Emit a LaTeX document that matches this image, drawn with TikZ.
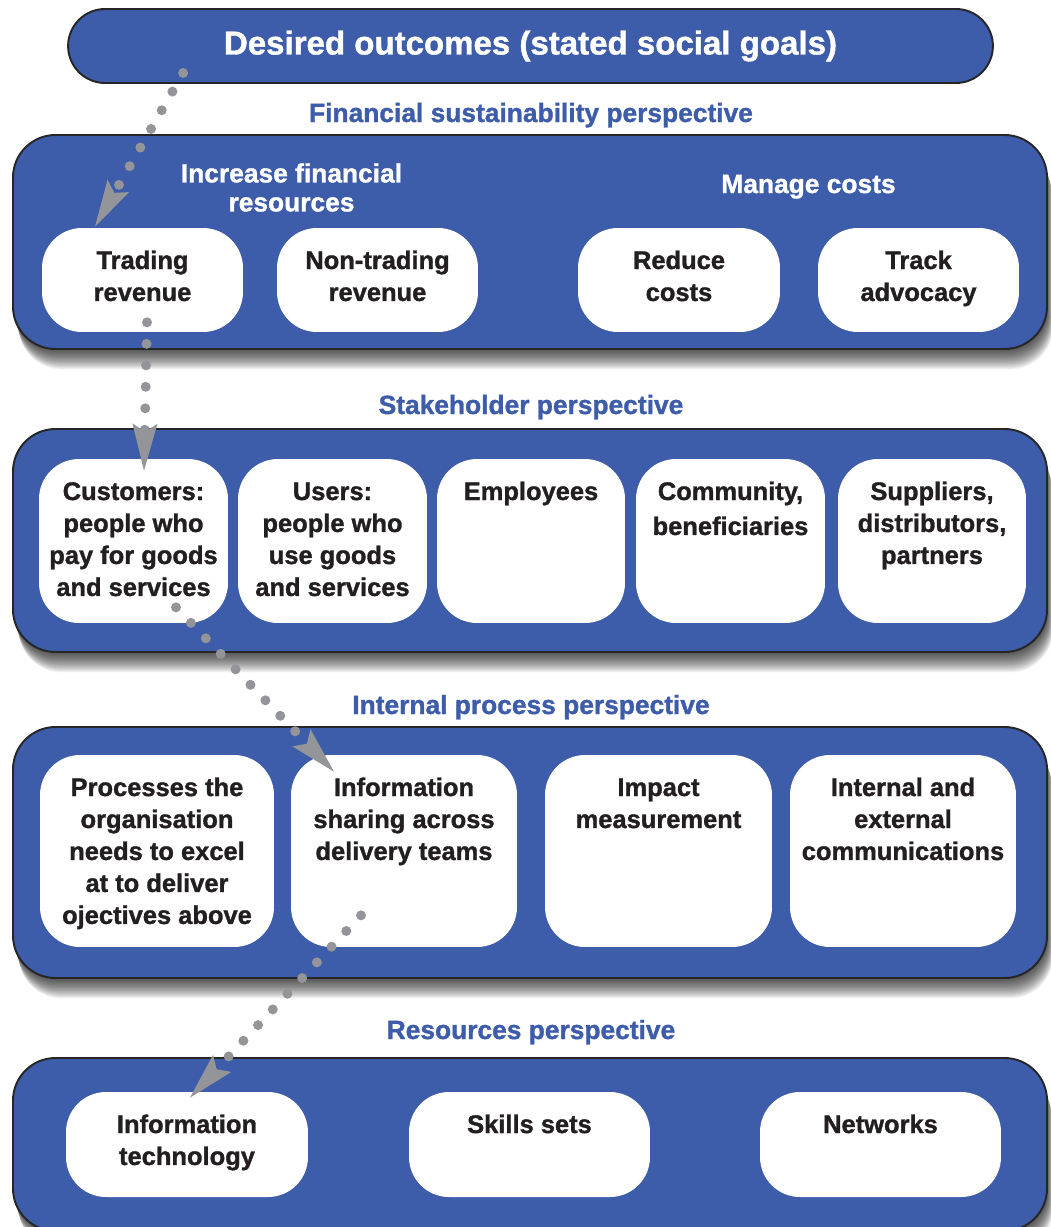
\documentclass[tikz,border=0pt]{standalone}
\usepackage{fontspec}
\setmainfont{Liberation Sans}[BoldFeatures={FakeBold=1.2}]
\usetikzlibrary{arrows.meta,calc}
\definecolor{panelblue}{HTML}{3D5CA9}
\definecolor{dotgray}{HTML}{939598}
\definecolor{inkblack}{HTML}{231F20}
% text hangs from the top of a white box
\newcommand\boxtext[3]{\parbox[c][#2][t]{#1}{\centering\rule{0pt}{0.82cm}#3}}
% blue plate with a soft shadow under it
\newcommand\plate[4]
{
  \foreach \s in {1,...,24}
    \fill[black,opacity=0.045,rounded corners=0.85cm]
      ({#1+0.25*\s},{#2+0.85*\s}) rectangle ({#3+0.25*\s},{#4+0.85*\s});
  \draw[plate] (#1,#2) rectangle (#3,#4);
}
\tikzset{
  plate/.style={fill=panelblue, draw=black!85, line width=1.1pt, rounded corners=0.85cm},
  titlebox/.style={fill=panelblue, draw=black!85, line width=1.1pt, rounded corners=0.74cm,
    minimum width=18.5cm, minimum height=1.48cm, inner sep=0pt, text=white,
    font=\bfseries\fontsize{18.8}{22}\selectfont},
  wbox/.style={fill=white, rounded corners=0.8cm, inner sep=0pt, text=inkblack,
    font=\bfseries\fontsize{14.5}{18.2}\selectfont},
  persp/.style={anchor=base, text=panelblue, font=\bfseries\fontsize{15}{18}\selectfont},
  head/.style={text=white, align=center, font=\bfseries\fontsize{15}{16.5}\selectfont},
  flowdots/.style={draw=dotgray, line width=0.2cm, line cap=round,
    dash pattern=on 0pt off 0.43cm,
    -{Stealth[length=0.94cm, width=0.5cm, inset=0.16cm, line width=0pt]}}
}
\begin{document}
\begin{tikzpicture}[x=0.02cm, y=-0.02cm]
  \useasboundingbox (0,0) rectangle (1051,1227);
  \clip (0,0) rectangle (1051,1227);

  % goals
  \node[titlebox] (title) at (530.5,46) {Desired outcomes (stated social goals)};

  % financial sustainability
  \node[persp] (finlabel) at (531,122) {Financial sustainability perspective};
  \plate{13}{135}{1047}{349}
  \node[head] (increase) at (291.5,187.5) {Increase financial\\resources};
  \node[head, anchor=base] (manage) at (808.5,193) {Manage costs};
  \node[wbox] (trade) at (142.5,280) {\boxtext{4.02cm}{2.08cm}{Trading\\revenue}};
  \node[wbox] (nontrade) at (377.5,280) {\boxtext{4.02cm}{2.08cm}{Non-trading\\revenue}};
  \node[wbox] (reduce) at (679,280) {\boxtext{4.04cm}{2.08cm}{Reduce\\costs}};
  \node[wbox] (track) at (918.5,280) {\boxtext{4.02cm}{2.08cm}{Track\\advocacy}};

  % stakeholders
  \node[persp] (stakelabel) at (531,414) {Stakeholder perspective};
  \plate{13}{429}{1047}{652}
  \node[wbox] (cust) at (133.5,541) {\boxtext{3.78cm}{3.28cm}{Customers:\\people who\\pay for goods\\and services}};
  \node[wbox] (users) at (332.5,541) {\boxtext{3.78cm}{3.28cm}{Users:\\people who\\use goods\\and services}};
  \node[wbox] (staff) at (531,541) {\boxtext{3.76cm}{3.28cm}{Employees}};
  \node[wbox] (comm) at (730.5,541) {\boxtext{3.78cm}{3.28cm}{Community,\\[0.06cm]beneficiaries}};
  \node[wbox] (supp) at (932,541) {\boxtext{3.76cm}{3.28cm}{Suppliers,\\distributors,\\partners}};

  % internal process
  \node[persp] (proclabel) at (531,714) {Internal process perspective};
  \plate{13}{727}{1047}{978}
  \node[wbox] (proc) at (157,851) {\boxtext{4.68cm}{3.84cm}{Processes the\\organisation\\needs to excel\\at to deliver\\ojectives above}};
  \node[wbox] (info) at (404,851) {\boxtext{4.52cm}{3.84cm}{Information\\sharing across\\delivery teams}};
  \node[wbox] (impact) at (658.5,851) {\boxtext{4.54cm}{3.84cm}{Impact\\measurement}};
  \node[wbox] (comms) at (903,851) {\boxtext{4.52cm}{3.84cm}{Internal and\\external\\communications}};

  % resources
  \node[persp] (reslabel) at (531,1039) {Resources perspective};
  \plate{13}{1058}{1047}{1231}
  \node[wbox] (it) at (187,1144.5) {\boxtext{4.84cm}{2.1cm}{Information\\technology}};
  \node[wbox] (skills) at (529.5,1144.5) {\boxtext{4.82cm}{2.1cm}{Skills sets}};
  \node[wbox] (netw) at (880.5,1144.5) {\boxtext{4.82cm}{2.1cm}{Networks}};

  % dotted chain down the perspectives
  \draw[flowdots] ($(title.south west)+(116,-11)$) -- ($(trade.north)+(-47.5,-1)$);
  \draw[flowdots] ($(trade.south)+(4.5,-10)$) -- ($(cust.north)+(10.5,12)$);
  \draw[flowdots] ($(cust.south)+(42.5,-16)$) -- ($(info.north)+(-70,17)$);
  \draw[flowdots] ($(info.south)+(-43,-32)$) -- ($(it.north)+(3,6)$);
\end{tikzpicture}
\end{document}
